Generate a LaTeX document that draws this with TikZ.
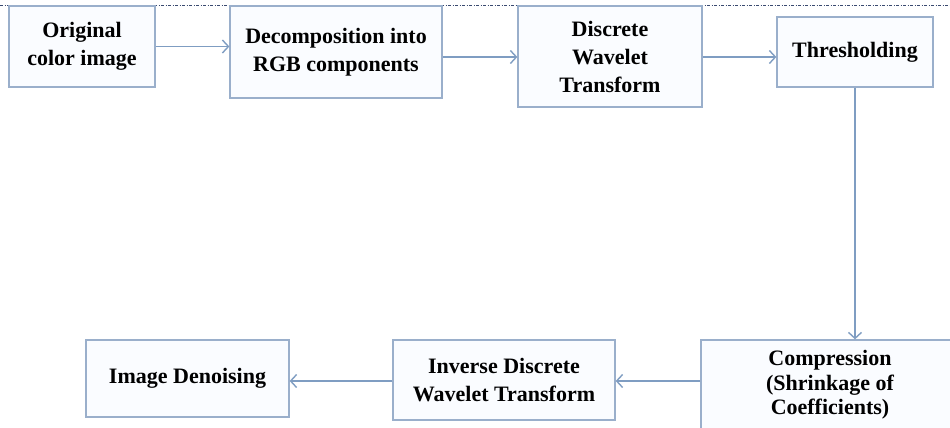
\documentclass[tikz,border=0pt]{standalone}
\usepackage{fontspec}
\setmainfont{Liberation Serif}
\usetikzlibrary{arrows.meta}
\definecolor{boxline}{HTML}{9AAFCB}
\definecolor{boxfill}{HTML}{FAFCFF}
\definecolor{arrline}{HTML}{7F9DC2}
\definecolor{topline}{HTML}{3A4A70}
\tikzset{
  stepbox/.style={draw=boxline, fill=boxfill, line width=1.3pt, inner sep=0pt,
    align=center, font=\fontsize{22}{28}\selectfont\bfseries},
  arr/.style={draw=arrline, line width=1.4pt, -{Straight Barb[length=6pt,width=13pt]}},
  plainline/.style={draw=arrline, line width=1.4pt},
}
\begin{document}
\begin{tikzpicture}[x=1pt,y=-1pt]
\clip (0,0) rectangle (950,428);
\fill[white] (0,0) rectangle (950,428);
\draw[topline, line width=0.6pt, dash pattern=on 3pt off 1.5pt on 1pt off 1.5pt] (0,5) -- (950,5);
\node[stepbox, minimum width=146pt, minimum height=81pt] (orig) at (82,46.5) {Original\\color image};
\node[stepbox, minimum width=212pt, minimum height=92pt] (dec) at (336,52) {Decomposition into\\RGB components};
\node[stepbox, minimum width=184pt, minimum height=101pt] (dwt) at (610,56.5) {Discrete\\Wavelet\\Transform};
\node[stepbox, minimum width=156pt, minimum height=70pt] (thr) at (855,52) {Thresholding};
\node[stepbox, minimum width=258pt, minimum height=90pt, font=\fontsize{22}{24.5}\selectfont\bfseries] (comp) at (830,385) {Compression\\(Shrinkage of\\Coefficients)};
\node[stepbox, minimum width=222pt, minimum height=80pt] (idwt) at (504,380) {Inverse Discrete\\Wavelet Transform};
\node[stepbox, minimum width=203pt, minimum height=77pt] (den) at (187.5,378.5) {Image Denoising};
\draw[arr] (orig.east) -- (orig.east -| dec.west);
\draw[arr] (dec.east |- 0,57) -- (dwt.west |- 0,57);
\draw[arr] (dwt.east |- 0,57) -- (thr.west |- 0,57);
\draw[arr] (thr.south) -- (thr.south |- comp.north);
\draw[arr] (comp.west |- 0,381) -- (idwt.east |- 0,381);
\draw[arr] (idwt.west |- 0,381) -- (den.east |- 0,381);
\end{tikzpicture}
\end{document}
